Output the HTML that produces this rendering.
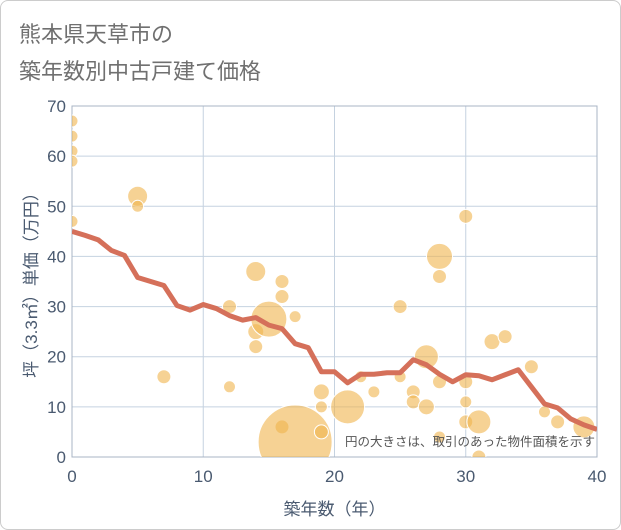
<!DOCTYPE html>
<html><head><meta charset="utf-8"><style>
body{margin:0;background:#fff;font-family:"Liberation Sans","Noto Sans CJK JP",sans-serif;}
#wrap{position:relative;width:619px;height:528px;border:1px solid #ccc;border-radius:8px;overflow:hidden;}
.title{position:absolute;left:18px;color:#707070;font-size:22px;}
</style></head><body>
<div id="wrap">
<div class="title" style="top:16px">熊本県天草市の</div>
<div class="title" style="top:53px">築年数別中古戸建て価格</div>
<svg id="chart" width="621" height="530" style="position:absolute;left:0;top:0"><defs><clipPath id="pc"><rect x="71" y="105" width="525" height="351"/></clipPath></defs></svg>
</div>
<script>
const xTicks=[0,10,20,30,40];
const yTicks=[0,10,20,30,40,50,60,70];
const lineX=[0,1,2,3,4,5,6,7,8,9,10,11,12,13,14,15,16,17,18,19,20,21,22,23,24,25,26,27,28,29,30,31,32,33,34,35,36,37,38,39,40];
const lineY=[45,44.2,43.3,41.2,40.2,35.8,35,34.2,30.2,29.3,30.4,29.6,28.2,27.3,27.8,26.3,25.6,22.6,21.8,17,17,14.8,16.5,16.5,16.8,16.8,19.4,18.4,16.5,15,16.4,16.2,15.4,16.4,17.4,14,10.6,9.8,7.6,6.4,5.5];
const bubX=[0,0,0,0,0,5,5,7,12,12,14,14,14,15,16,16,17,16,17,19,19,19,21,22,23,25,25,26,26,27,27,28,28,28,28,30,30,30,30,31,31,32,33,35,36,37,39];
const bubY=[67,64,61,59,47,52,50,16,30,14,37,25,22,27.5,35,32,28,6,3,13,10,5,10,16,13,30,16,13,11,20,10,40,36,15,4,48,15,11,7,7,0,23,24,18,9,7,6];
const bubR=[6,6,6,6,6,10,6,7,7,6,10,8,7,18,7,7,6,7,37,8,6,7,17,6,6,7,6,7,7,12,8,13,7,7,6,7,7,6,7,12,7,8,7,7,6,7,11];
const X0=71,X1=596,Y0=456,Y1=105;
const sx=v=>X0+(v-0)/(40-0)*(X1-X0);
const sy=v=>Y0-(v-0)/(70-0)*(Y0-Y1);
const svg=document.getElementById('chart');
const NS='http://www.w3.org/2000/svg';
function mk(t,a,p){const e=document.createElementNS(NS,t);for(const k in a)e.setAttribute(k,a[k]);(p||svg).appendChild(e);return e;}
yTicks.forEach(v=>{
 const l=mk('line',{x1:X0,x2:X1,y1:sy(v),y2:sy(v),stroke:'#c5d2e0','stroke-width':1});
 
 
 const t=mk('text',{x:X0-6,y:sy(v)+6,'text-anchor':'end','font-size':17,fill:'#4a5a70'});
 t.textContent=v;
 
 
});
xTicks.forEach(v=>{
 const l=mk('line',{x1:sx(v),x2:sx(v),y1:Y1,y2:Y0,stroke:'#c5d2e0','stroke-width':1});
 
 
 const t=mk('text',{x:sx(v),y:Y0+25,'text-anchor':'middle','font-size':17,fill:'#4a5a70'});
 t.textContent=v;
 
 
});
const fr=mk('rect',{x:X0,y:Y1,width:X1-X0,height:Y0-Y1,fill:'none',stroke:'#a8b4c4'});


const g=mk('g',{'clip-path':'url(#pc)'});


bubX.forEach((v,i)=>{
 const c=mk('circle',{cx:sx(v),cy:sy(bubY[i]),r:bubR[i],fill:'#f0b44c','fill-opacity':0.6,stroke:'#fff','stroke-width':1},g);
 
 
});
const pl=mk('polyline',{points:lineX.map((v,i)=>sx(v)+','+sy(lineY[i])).join(' '),fill:'none',stroke:'#d5705a','stroke-width':5,'stroke-linejoin':'round'},g);


const note=mk('text',{x:594,y:445,'text-anchor':'end','font-size':12.5,fill:'#555'});
note.textContent='円の大きさは、取引のあった物件面積を示す';


const xt=mk('text',{x:(X0+X1)/2,y:514,'text-anchor':'middle','font-size':17,fill:'#4a5a70'});
xt.textContent='築年数（年）';


const yt=mk('text',{x:0,y:0,'text-anchor':'middle','font-size':17,fill:'#4a5a70',transform:'translate(36,280) rotate(-90)'});
yt.textContent='坪（3.3㎡）単価（万円）';


</script>
</body></html>
